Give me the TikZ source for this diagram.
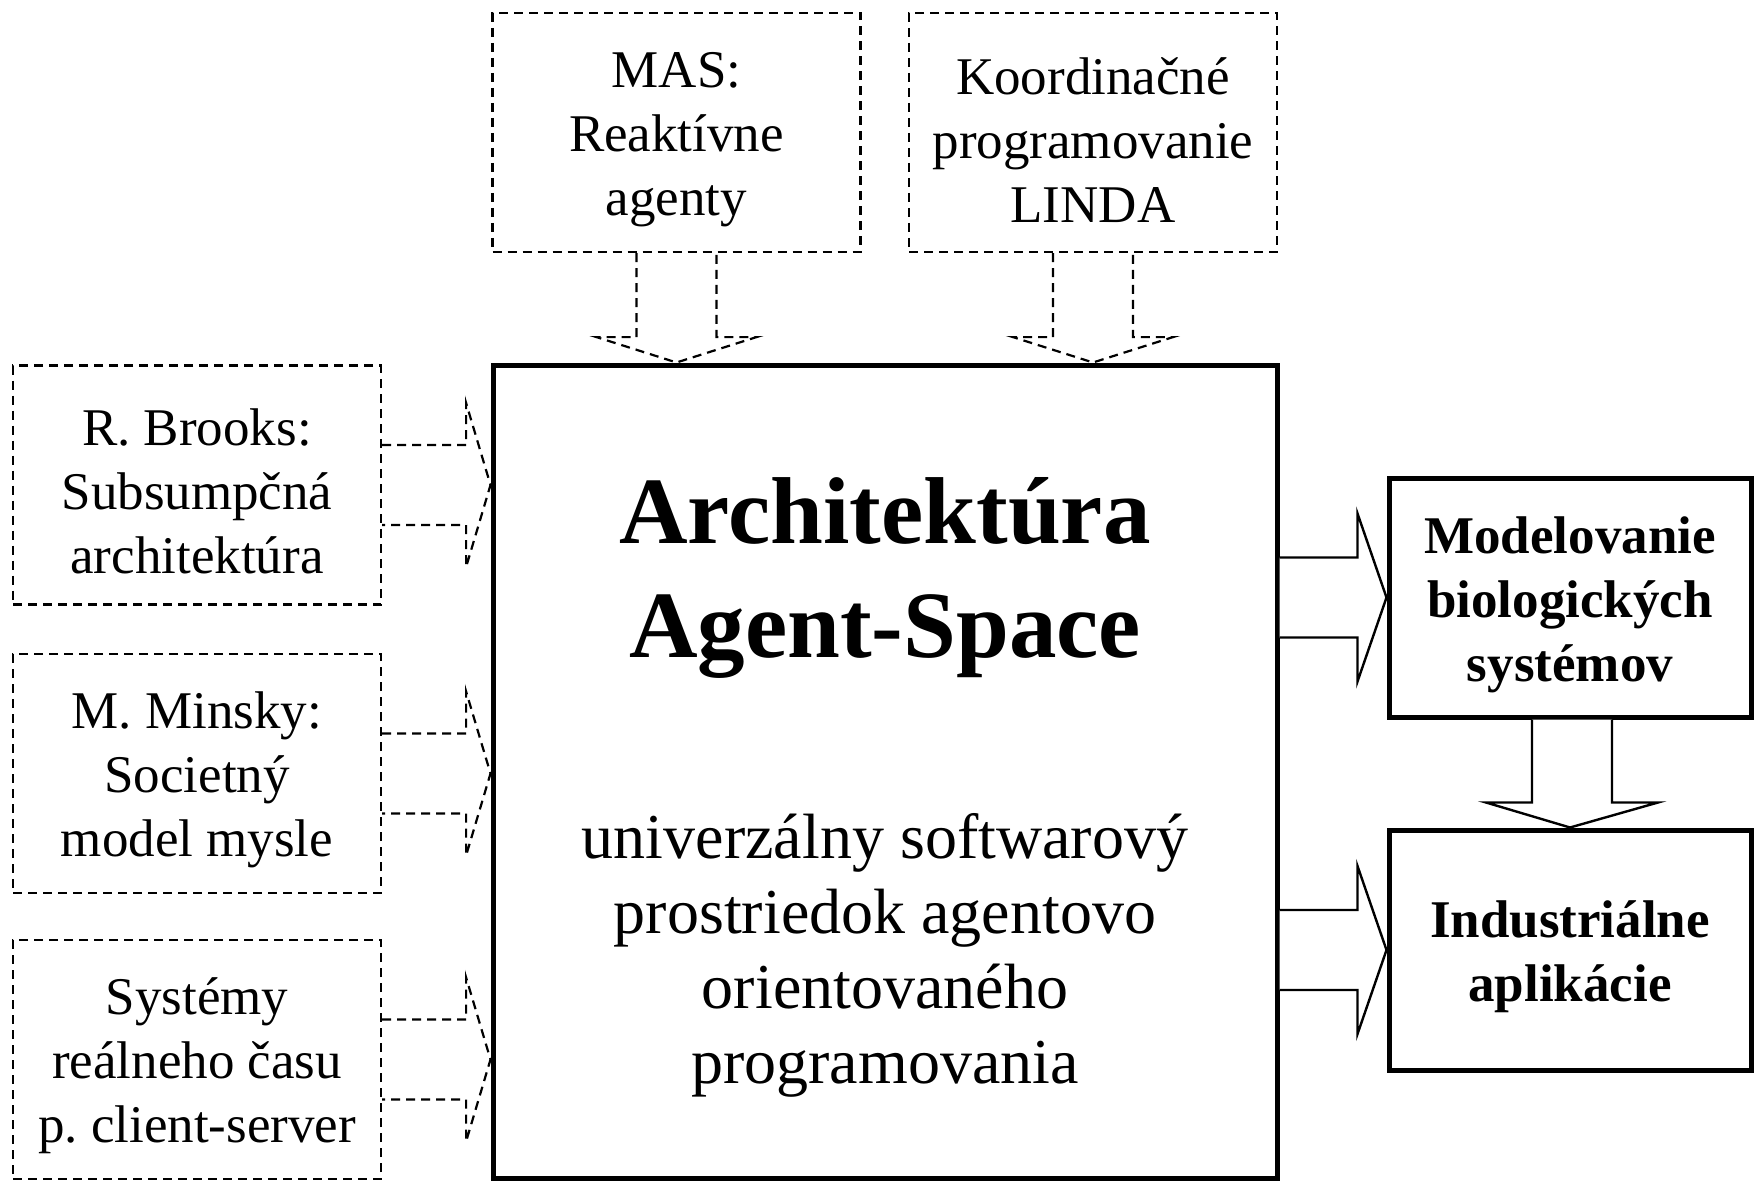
\documentclass[tikz,border=0pt]{standalone}
\usepackage{fontspec}
\setmainfont{Liberation Serif}
\usetikzlibrary{calc}
\begin{document}
\begin{tikzpicture}[x=1pt,y=-1pt,
  dbox/.style={draw,line width=2.2pt,dash pattern=on 9pt off 6pt,minimum width=368pt,minimum height=239pt,inner sep=0pt},
  dtext/.style={align=center,inner sep=0pt,font=\fontsize{53}{64}\selectfont},
  btext/.style={align=center,inner sep=0pt,font=\fontsize{53}{64}\selectfont\bfseries},
  sbox/.style={draw,line width=5pt,inner sep=0pt},
  fat/.style={draw,line width=2.4pt,line join=miter,fill=white},
  dfat/.style={draw,line width=2.2pt,dash pattern=on 9pt off 6pt}]
\useasboundingbox (0,0) rectangle (1756,1182);
\node[dbox] (mas) at (676.5,132.5) {};
\node[dtext] (mas-t) at (676.5,140) {MAS:\\Reaktívne\\agenty};
\node[dbox] (koord) at (1093,132.5) {};
\node[dtext] (koord-t) at (1093,140) {Koordinačné\\programovanie\\LINDA};
\node[dbox] (brooks) at (197,485) {};
\node[dtext] (brooks-t) at (197,491) {R. Brooks:\\Subsumpčná\\architektúra};
\node[dbox] (minsky) at (197,773.5) {};
\node[dtext] (minsky-t) at (197,780) {M. Minsky:\\Societný\\model mysle};
\node[dbox] (sys) at (197,1059.5) {};
\node[dtext] (sys-t) at (197,1066) {Systémy\\reálneho času\\p.\ client-server};
\node[sbox,minimum width=784pt,minimum height=813pt] (main) at (885,771.5) {};
\node[align=center,inner sep=0pt,font=\fontsize{95}{114}\selectfont\bfseries] (title) at (885,578) {Architektúra\\Agent-Space};
\node[align=center,inner sep=0pt,font=\fontsize{64}{75}\selectfont] (sub) at (885,955) {univerzálny softwarový\\prostriedok agentovo\\orientovaného\\programovania};
\node[sbox,minimum width=362pt,minimum height=239pt] (model) at (1570,597.5) {};
\node[btext] (model-t) at (1570,605) {Modelovanie\\biologických\\systémov};
\node[sbox,minimum width=362pt,minimum height=240pt] (indus) at (1570,950) {};
\node[btext] (indus-t) at (1570,957) {Industriálne\\aplikácie};
% dashed top arrows
\foreach \b in {mas,koord}{
  \draw[dfat] ($(\b.south)+(-40,0)$) -- ($(\b.south)+(-40,84)$) -- ($(\b.south)+(-80,84)$) -- (\b.south |- main.north) -- ($(\b.south)+(80,84)$) -- ($(\b.south)+(40,84)$) -- ($(\b.south)+(40,0)$);
}
% dashed left arrows
\foreach \b in {brooks,minsky,sys}{
  \draw[dfat] ($(\b.east)+(0,-40)$) -- ($(\b.east)+(84,-40)$) -- ($(\b.east)+(84,-82)$) -- (main.west |- \b.east) -- ($(\b.east)+(84,82)$) -- ($(\b.east)+(84,40)$) -- ($(\b.east)+(0,40)$);
}
% solid right arrows
\foreach \b in {model,indus}{
  \draw[fat] (main.east |- {$(\b.west)+(0,-40)$}) -- ($(\b.west)+(-29,-40)$) -- ($(\b.west)+(-29,-84)$) -- (\b.west) -- ($(\b.west)+(-29,84)$) -- ($(\b.west)+(-29,40)$) -- (main.east |- {$(\b.west)+(0,40)$});
}
% down arrow
\draw[fat] ($(model.south)+(-38,0)$) -- ($(model.south)+(-38,83)$) -- ($(model.south)+(-84,83)$) -- (indus.north) -- ($(model.south)+(88,83)$) -- ($(model.south)+(42,83)$) -- ($(model.south)+(42,0)$);
\end{tikzpicture}
\end{document}
